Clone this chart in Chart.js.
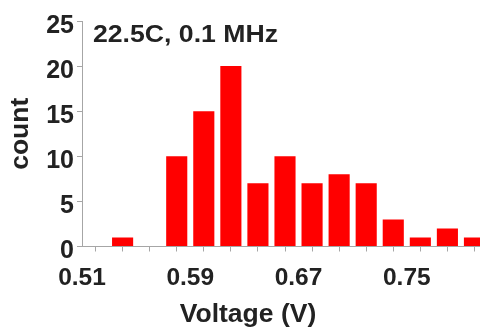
<!DOCTYPE html>
<html><head><meta charset="utf-8">
<script src="https://cdn.jsdelivr.net/npm/chart.js@4/dist/chart.umd.min.js"></script>
<style>html,body{margin:0;padding:0;overflow:hidden;background:#fff}#wrap{width:500px;height:328px}</style>
</head><body><div id="wrap"><canvas id="c" width="500" height="328"></canvas></div>
<script>
const binCenters = [0.52,0.54,0.56,0.58,0.60,0.62,0.64,0.66,0.68,0.70,0.72,0.74,0.76,0.78,0.80];
const counts = [0,1,0,10,15,20,7,10,7,8,7,3,1,2,1];
const binEdges = [0.51,0.53,0.55,0.57,0.59,0.61,0.63,0.65,0.67,0.69,0.71,0.73,0.75,0.77,0.79,0.81];
const xTickLabels = ['0.51','0.59','0.67','0.75'];
const annotationText = '22.5C, 0.1 MHz';
const xTitle = 'Voltage (V)';
const yTitle = 'count';

const FONT = '"Liberation Sans", Arial, sans-serif';
const TEXT = '#222222';
const AXIS = '#a6a6a6';

const annotate = {
  id: 'annot',
  afterDraw(chart) {
    const {ctx, chartArea} = chart;
    ctx.save();
    ctx.font = 'bold 24px ' + FONT;
    ctx.fillStyle = TEXT;
    ctx.textBaseline = 'alphabetic';
    ctx.textAlign = 'left';
    const w = ctx.measureText(annotationText).width;
    const sx = 185 / w;
    ctx.translate(chartArea.left + 11, chartArea.top + 21);
    ctx.scale(sx, 1);
    ctx.fillText(annotationText, 0, 0);
    ctx.restore();
  }
};

new Chart(document.getElementById('c'), {
  type: 'bar',
  data: {
    datasets: [{
      data: binCenters.map((x, i) => ({x: x, y: counts[i]})),
      backgroundColor: '#ff0000',
      borderWidth: 0,
      barPercentage: 0.78,
      categoryPercentage: 1.0
    }]
  },
  plugins: [annotate],
  options: {
    responsive: false,
    animation: false,
    layout: {padding: {left: 5, right: 9, top: 21, bottom: 0}},
    plugins: {
      legend: {display: false},
      tooltip: {enabled: false},
      title: {
        display: true, position: 'bottom', text: xTitle,
        color: TEXT, font: {family: FONT, size: 26.5, weight: 'bold', lineHeight: 1},
        padding: 0
      }
    },
    scales: {
      x: {
        type: 'linear', offset: false,
        min: binEdges[0], max: binEdges[binEdges.length - 1],
        afterBuildTicks(scale) { scale.ticks = binEdges.map(v => ({value: v})); },
        afterFit(scale) { scale.height = 55; },
        ticks: {
          autoSkip: false, maxRotation: 0, minRotation: 0, padding: 12,
          color: TEXT, font: {family: FONT, size: 24.5, weight: 'bold'},
          callback(v) {
            const l = xTickLabels.find(t => Math.abs(parseFloat(t) - v) < 1e-6);
            return l === undefined ? '' : l;
          }
        },
        grid: {drawOnChartArea: false, drawTicks: true, tickLength: 5, color: AXIS},
        border: {color: AXIS}
      },
      y: {
        min: 0, max: 25,
        afterFit(scale) { scale.width = 77; },
        ticks: {stepSize: 5, padding: 3, labelOffset: 5, color: TEXT, font: {family: FONT, size: 25, weight: 'bold'}},
        grid: {drawOnChartArea: false, drawTicks: true, tickLength: 5, color: AXIS},
        border: {color: AXIS},
        title: {display: true, text: yTitle, color: TEXT, font: {family: FONT, size: 26.5, weight: 'bold'}, padding: 0}
      }
    }
  }
});
</script></body></html>
